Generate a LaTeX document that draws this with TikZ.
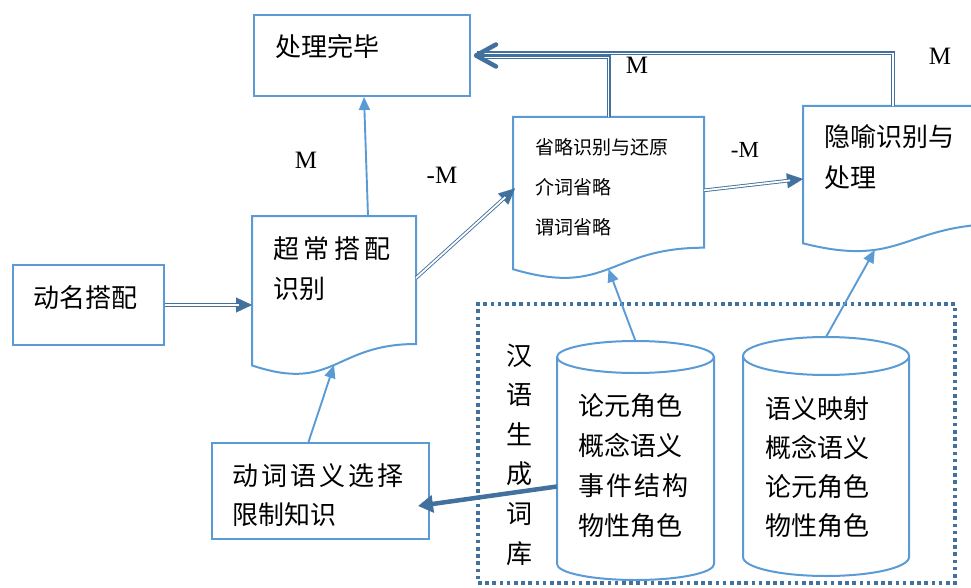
\documentclass[tikz,border=0pt]{standalone}
\usepackage{fontspec}
\setmainfont{Liberation Serif}
\newfontfamily\cjk{Noto Sans CJK SC}
\usetikzlibrary{arrows.meta,calc}
\definecolor{lblue}{RGB}{91,155,213}
\definecolor{dblue}{RGB}{65,113,156}
\begin{document}
\begin{tikzpicture}[x=1pt,y=-1pt,
  shp/.style={draw=lblue, line width=2pt},
  boxnode/.style={draw=lblue, line width=2pt, inner sep=0, fill=white},
  area/.style={inner sep=0, outer sep=0},
  thinarr/.style={draw=lblue, line width=1.9pt, -{Triangle[length=13pt,width=11pt]}},
  dbl/.style={draw=dblue, double=white, double distance=1.8pt, line width=0.9pt},
  dtip/.style={draw=dblue, fill=dblue, line width=0.01pt, -{Triangle[length=16pt,width=15pt]}},
  tcjk/.style={inner sep=0, anchor=base west, align=left, font=\cjk\fontsize{26}{40}\selectfont},
  tcjks/.style={inner sep=0, anchor=base west, align=left, font=\cjk\fontsize{19}{40}\selectfont},
  mlab/.style={inner sep=0, font=\fontsize{25}{25}\selectfont}]
\useasboundingbox (0,0) rectangle (971,588);
\clip (0,0) rectangle (971,588);

% dotted lexicon frame
\node[draw=dblue, line width=3.2pt, dash pattern=on 3.6pt off 3.6pt, minimum width=477, minimum height=279, inner sep=0] (lib) at (716.5,443.5) {};

% rectangles
\node[boxnode, minimum width=216, minimum height=81] (done) at (362,55.5) {};
\node[boxnode, minimum width=151, minimum height=80] (dm) at (88.5,305) {};
\node[boxnode, minimum width=217, minimum height=96] (verb) at (320.5,491) {};

% documents
\node[area, minimum width=164, minimum height=128] (super) at (334,280) {};
\draw[shp] (252,216) -- (416,216) -- (416,344) .. controls (334,344) and (334,393) .. coordinate[pos=0.5] (superwave) (252,365.4) -- cycle;
\node[area, minimum width=191, minimum height=130.7] (shenglue) at (608.5,182.35) {};
\draw[shp] (513,117) -- (704,117) -- (704,247.7) .. controls (608.5,247.7) and (608.5,297.4) .. coordinate[pos=0.5] (shenwave) (513,269.2) -- cycle;
\node[area, minimum width=200, minimum height=117.9] (yinyu) at (903,164.95) {};
\draw[shp] (803,106) -- (1003,106) -- (1003,223.9) .. controls (903,223.9) and (903,268.7) .. coordinate[pos=0.68] (yinwave) (803,243.3) -- cycle;

% cylinders
\node[area, minimum width=157, minimum height=239] (cyl1) at (635.5,460.5) {};
\draw[shp] (557,357) -- (557,564) arc[start angle=180, end angle=360, x radius=78.5pt, y radius=16pt] -- (714,357);
\draw[shp] (635.5,357) ellipse [x radius=78.5pt, y radius=16pt];
\node[area, minimum width=166, minimum height=239] (cyl2) at (826,456.5) {};
\draw[shp] (743,356) -- (743,557) arc[start angle=180, end angle=360, x radius=83pt, y radius=19pt] -- (909,356);
\draw[shp] (826,356) ellipse [x radius=83pt, y radius=19pt];

% connectors: thin
\draw[thinarr] ($(super.north)+(34,0)$) -- ($(done.south)+(2,0)$);
\draw[thinarr] ($(verb.north)+(-12,0)$) -- (superwave);
\draw[thinarr] (cyl1.north) -- (shenwave);
\draw[thinarr] (cyl2.north) -- (yinwave);

% connectors: double
\draw[dtip] (dm.east) -- (dm.east -| super.west);
\draw[dbl, shorten >=13pt] (dm.east) -- (dm.east -| super.west);
\draw[dtip] ($(super.east)+(0,-2)$) -- ($(shenglue.west)+(2,6)$);
\draw[dbl, shorten >=13pt] ($(super.east)+(0,-2)$) -- ($(shenglue.west)+(2,6)$);
\draw[dtip] ($(shenglue.east)+(0,8)$) -- ($(yinyu.west)+(0,14)$);
\draw[dbl, shorten >=13pt] ($(shenglue.east)+(0,8)$) -- ($(yinyu.west)+(0,14)$);

% feedback to done
\draw[dbl, line width=1.1pt] ($(yinyu.north)+(-10,0)$) |- ($(done.east)+(6,-2)$);
\draw[dbl, line width=1.1pt] (shenglue.north) |- ($(done.east)+(6,2)$);
\draw[dblue, line width=4.5pt, line cap=round, line join=round] ($(done.east)+(25,-11)$) -- ($(done.east)+(5,0)$) -- ($(done.east)+(25,11)$);

% thick arrow lexicon -> verb
\draw[draw=dblue, line width=4.5pt, -{Triangle[length=15pt,width=17pt]}] ($(cyl1.west)+(0,26)$) -- ($(verb.east)+(-12,15)$);

% texts (base anchor = last line's baseline)
\node[tcjk] (tdone) at (275,57) {处理完毕};
\node[tcjk] (tdm) at (33,307) {动名搭配};
\node[tcjk] (tsuper) at (273,298) {超\hspace{4.5pt}常\hspace{4.5pt}搭\hspace{4.5pt}配\\识别};
\node[tcjks] (tshen) at (535,234) {省略识别与还原\\介词省略\\谓词省略};
\node[tcjk, font=\cjk\fontsize{26}{41}\selectfont] (tyin) at (824,188) {隐喻识别与\\处理};
\node[tcjk, font=\cjk\fontsize{26}{39}\selectfont] (tverb) at (232,524) {动\hspace{3pt}词\hspace{3pt}语\hspace{3pt}义\hspace{3pt}选\hspace{3pt}择\\限制知识};
\node[tcjk, align=center, font=\cjk\fontsize{26}{39.6}\selectfont] (tlib) at (506,563) {汉\\语\\生\\成\\词\\库};
\node[tcjk] (tcyl1) at (578,535) {论元角色\\概念语义\\事\hspace{2pt}件\hspace{2pt}结\hspace{2pt}构\\物性角色};
\node[tcjk, font=\cjk\fontsize{26}{39}\selectfont] (tcyl2) at (765,535) {语义映射\\概念语义\\论元角色\\物性角色};

% labels
\node[mlab] (m1) at (306,160) {M};
\node[mlab] (m2) at (442,175) {-M};
\node[mlab] (m3) at (637,65) {M};
\node[mlab, font=\fontsize{23}{23}\selectfont] (m4) at (745,150) {-M};
\node[mlab] (m5) at (940,56) {M};
\end{tikzpicture}
\end{document}
